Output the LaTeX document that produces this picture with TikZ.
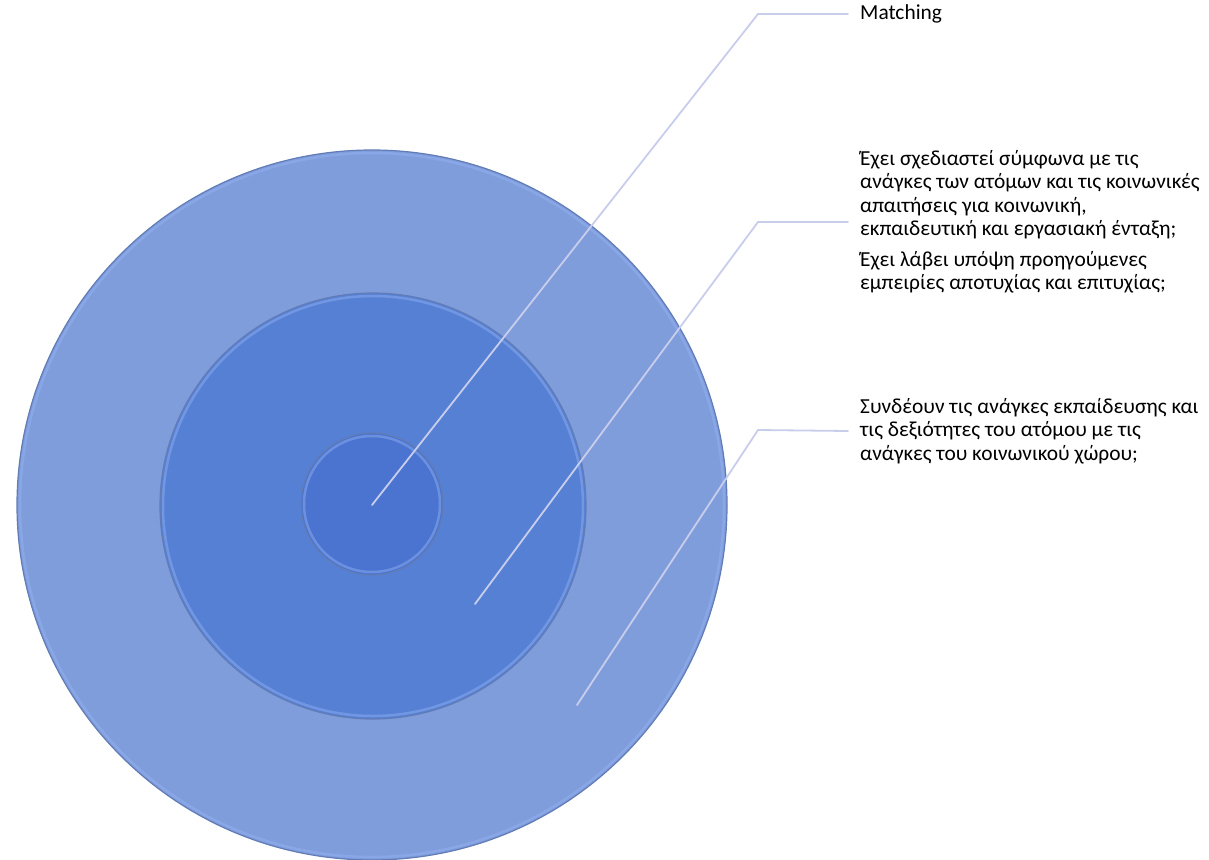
\documentclass[tikz,border=0pt]{standalone}
\usepackage{fontspec}
\setmainfont{Carlito}
\begin{document}
\begin{tikzpicture}[x=1pt,y=-1pt,
  ringA/.style={circle, fill=outerc, draw=edgec, line width=1.2pt, inner sep=0pt},
  ringB/.style={circle, fill=midc, draw=edgec, line width=1.2pt, inner sep=0pt},
  ringC/.style={circle, fill=innc, draw=edgec, line width=1.2pt, inner sep=0pt},
  rim/.style={draw=hilite, line width=2.5pt, opacity=0.45},
  leader/.style={draw=leadc, line width=1.8pt, line cap=round},
  label/.style={anchor=west, align=left, inner xsep=12pt, inner ysep=0pt, font=\fontsize{21.4}{23.3}\selectfont, text=black}
]
\definecolor{outerc}{RGB}{127,157,219}
\definecolor{midc}{RGB}{86,128,212}
\definecolor{innc}{RGB}{74,116,208}
\definecolor{edgec}{RGB}{98,124,182}
\definecolor{hilite}{RGB}{150,180,245}
\definecolor{leadc}{RGB}{200,205,236}
\useasboundingbox (0,0) rectangle (1209,859);
% circles
\node[ringA, minimum size=710pt] (outer) at (372,505) {};
\draw[rim] (outer.center) circle[radius=352];
\node[ringB, minimum size=426pt] (middle) at (373,506) {};
\draw[rim] (middle.center) circle[radius=210];
\node[ringC, minimum size=142pt] (inner) at (372,504) {};
\draw[rim] (inner.center) circle[radius=68];
% leader points
\coordinate (p1) at (372,505);
\coordinate (b1) at (758,14);
\coordinate (p2) at (475,604);
\coordinate (b2) at (758,222);
\coordinate (p3) at (577,705);
\coordinate (b3) at (758,430);
% labels
\node[label] (t1) at (848,14) {Matching};
\node[label] (t2) at (848,222) {Έχει σχεδιαστεί σύμφωνα με τις\\ανάγκες των ατόμων και τις κοινωνικές\\απαιτήσεις για κοινωνική,\\εκπαιδευτική και εργασιακή ένταξη;\\[8pt]Έχει λάβει υπόψη προηγούμενες\\εμπειρίες αποτυχίας και επιτυχίας;};
\node[label] (t3) at (848,431) {Συνδέουν τις ανάγκες εκπαίδευσης και\\τις δεξιότητες του ατόμου με τις\\ανάγκες του κοινωνικού χώρου;};
% leaders
\draw[leader] (p1) -- (b1) -- (t1.west);
\draw[leader] (p2) -- (b2) -- (t2.west);
\draw[leader] (p3) -- (b3) -- (t3.west);
\end{tikzpicture}
\end{document}
